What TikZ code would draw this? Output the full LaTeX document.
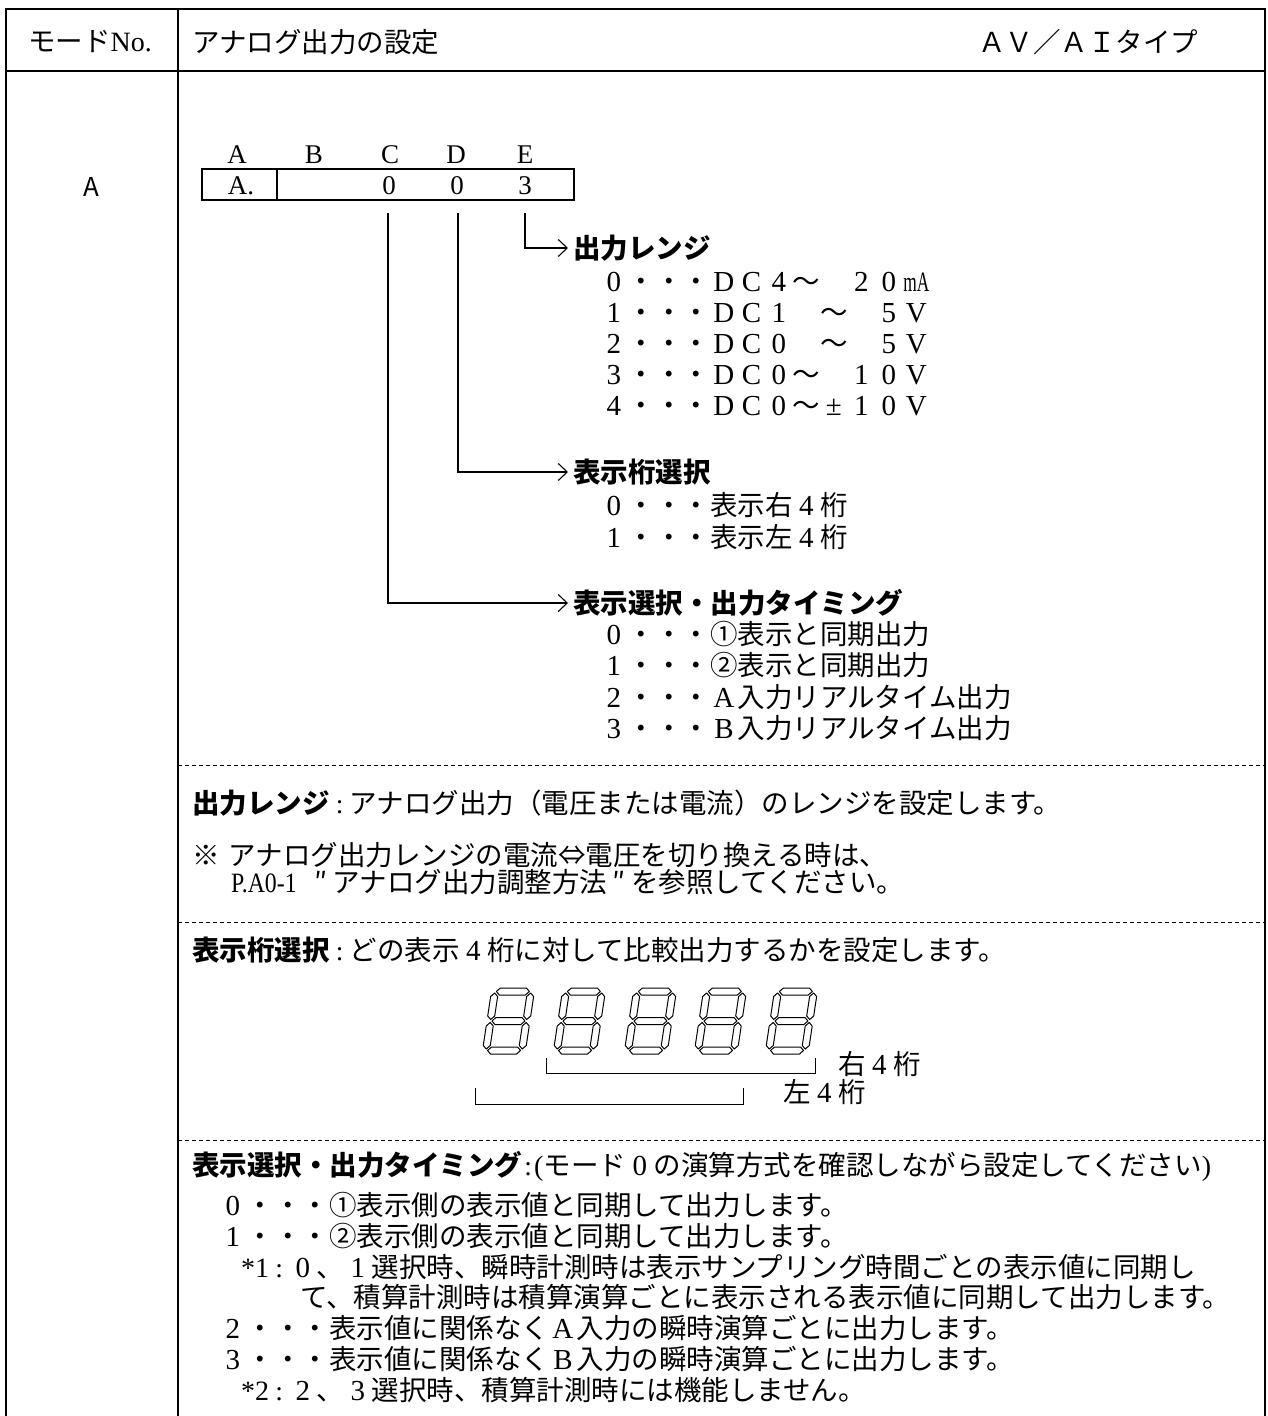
\documentclass[tikz,border=0pt]{standalone}
\usepackage{fontspec}
\usepackage{graphicx}
\usetikzlibrary{arrows.meta}
\newfontfamily\jp{Noto Sans CJK JP}
\newfontfamily\ser{Liberation Serif}
\newcommand\fsz{\fontsize{27.5}{33}\selectfont}
\newcommand\fw[1]{\makebox[27.5pt][c]{\ser\fontsize{29}{32}\selectfont #1}}
\newcommand\hw[1]{{\ser\fontsize{28}{32}\selectfont #1}}
\newcommand\cln[1][20pt]{\makebox[#1][c]{\ser :}}
\newcommand\hseg[3]{\draw[segst] (#1,-#3) -- ({#1+3.5},{-#3-3.5}) -- ({#2-3.5},{-#3-3.5}) -- (#2,-#3) -- ({#2-3.5},{-#3+3.5}) -- ({#1+3.5},{-#3+3.5}) -- cycle;}
\newcommand\vseg[3]{\draw[segst] (#1,-#2) -- ({#1+3.5},{-#2-3.5}) -- ({#1+3.5},{-#3+3.5}) -- (#1,-#3) -- ({#1-3.5},{-#3+3.5}) -- ({#1-3.5},{-#2-3.5}) -- cycle;}
\tikzset{segdig/.pic={
  \begin{scope}[xslant=0.15]
  \hseg{5}{38}{3.5}\hseg{5}{38}{33}\hseg{5}{38}{62.5}
  \vseg{3.5}{5}{31.5}\vseg{3.5}{34.5}{61}
  \vseg{39.5}{5}{31.5}\vseg{39.5}{34.5}{61}
  \end{scope}}}
\begin{document}
\begin{tikzpicture}[x=1pt,y=-1pt,
  frame/.style={line width=2pt},
  dashsep/.style={line width=1pt, dash pattern=on 4pt off 3pt},
  txt/.style={inner sep=0pt, anchor=west, font=\jp\fsz},
  hdr/.style={inner sep=0pt, anchor=west, font=\jp\bfseries\fsz},
  ser/.style={inner sep=0pt, font=\ser\fontsize{27}{30}\selectfont},
  conn/.style={line width=1.1pt, -{Straight Barb[length=9pt,width=17pt,line width=1.1pt]}, shorten >=5pt},
  brk/.style={line width=1pt},
  segst/.style={line width=1pt, line join=round},
  regbox/.style={draw, line width=1.6pt, inner sep=0pt, minimum width=372pt, minimum height=31pt, anchor=north west},
]
\useasboundingbox (0,0) rectangle (1268,1416);

% frame
\draw[line width=2.6pt] (5,9) -- (1266,9);
\draw[frame] (6,9) -- (6,1416);
\draw[frame] (1265,9) -- (1265,1416);
\draw[frame] (6,71) -- (1265,71);
\draw[frame] (178,9) -- (178,1416);

% header
\node[txt, anchor=center] (modeno) at (90,42) {モード\hw{No.}};
\node[txt] (title) at (192,42) {アナログ出力の設定};
\node[txt] (type) at (978,42) {ＡＶ／ＡＩタイプ};
\node[inner sep=0pt, font=\jp\fontsize{26}{28}\selectfont] (modeA) at (91,187) {A};

% register box
\node[ser] (lA) at (237,155) {A};
\node[ser] (lB) at (314,155) {B};
\node[ser] (lC) at (390,155) {C};
\node[ser] (lD) at (456,155) {D};
\node[ser] (lE) at (525,155) {E};
\node[regbox] (reg) at (201,168) {};
\draw[line width=1.6pt] (277,168) -- (277,199);
\node[ser] (vA) at (241,186) {A.};
\node[ser] (vC) at (389,186) {0};
\node[ser] (vD) at (457,186) {0};
\node[ser] (vE) at (525,186) {3};

\coordinate (sC) at (388,213);
\coordinate (sD) at (458,213);
\coordinate (sE) at (525,213);

% headings
\node[hdr] (h1) at (573,248) {出力レンジ};
\node[hdr] (h2) at (573,472) {表示桁選択};
\node[hdr] (h3) at (573,603) {表示選択・出力タイミング};
\draw[conn] (sE) |- (h1.west);
\draw[conn] (sD) |- (h2.west);
\draw[conn] (sC) |- (h3.west);

% section 1 items
\node[txt] (a0) at (600,282) {\fw{0}・・・\fw{D}\fw{C}\fw{4}～　\fw{2}\fw{0}\makebox[27.5pt][c]{\scalebox{0.62}[1]{\hw{mA}}}};
\node[txt] (a1) at (600,313) {\fw{1}・・・\fw{D}\fw{C}\fw{1}　～　\fw{5}\fw{V}};
\node[txt] (a2) at (600,344) {\fw{2}・・・\fw{D}\fw{C}\fw{0}　～　\fw{5}\fw{V}};
\node[txt] (a3) at (600,375) {\fw{3}・・・\fw{D}\fw{C}\fw{0}～　\fw{1}\fw{0}\fw{V}};
\node[txt] (a4) at (600,406) {\fw{4}・・・\fw{D}\fw{C}\fw{0}～\fw{±}\fw{1}\fw{0}\fw{V}};
% section 2 items
\node[txt] (b0) at (600,505) {\fw{0}・・・表示右\fw{4}桁};
\node[txt] (b1) at (600,537) {\fw{1}・・・表示左\fw{4}桁};
% section 3 items
\node[txt] (c0) at (600,634) {\fw{0}・・・①表示と同期出力};
\node[txt] (c1) at (600,665) {\fw{1}・・・②表示と同期出力};
\node[txt] (c2) at (600,697) {\fw{2}・・・\fw{A}入力リアルタイム出力};
\node[txt] (c3) at (600,728) {\fw{3}・・・\fw{B}入力リアルタイム出力};

% separators
\draw[dashsep] (178,765) -- (1265,765);
\draw[dashsep] (178,922) -- (1265,922);
\draw[dashsep] (178,1140) -- (1265,1140);

% description 1
\node[txt] (d1) at (192,803) {{\bfseries 出力レンジ}\cln アナログ出力（電圧または電流）のレンジを設定します。};
\node[txt] (d2) at (192,855) {※\hspace{9pt}アナログ出力レンジの電流⇔電圧を切り換える時は、};
\node[txt] (d3) at (231,882) {\scalebox{0.85}[1]{\hw{P.A0-1}}\hspace{12pt}\makebox[24pt][c]{″}アナログ出力調整方法\makebox[24pt][c]{″}を参照してください。};

% description 2
\node[txt] (d4) at (192,950) {{\bfseries 表示桁選択}\cln どの表示\fw{4}桁に対して比較出力するかを設定します。};
\pic at (482,1054) {segdig};
\pic at (553,1054) {segdig};
\pic at (624,1054) {segdig};
\pic at (694,1054) {segdig};
\pic at (765,1054) {segdig};
\draw[brk] (546,1058) -- (546,1073) -- (815,1073) -- (815,1058);
\draw[brk] (475,1088) -- (475,1104) -- (743,1104) -- (743,1088);
\node[txt] (r4) at (838,1064) {右\fw{4}桁};
\node[txt] (l4) at (783,1092) {左\fw{4}桁};

% description 3
\node[txt] (d5) at (192,1166) {{\bfseries 表示選択・出力タイミング}\cln[12pt]\hw{(}モード\fw{0}の演算方式を確認しながら設定してください\hw{)}};
\node[txt] (e0) at (219,1205) {\fw{0}・・・①表示側の表示値と同期して出力します。};
\node[txt] (e1) at (219,1236) {\fw{1}・・・②表示側の表示値と同期して出力します。};
\node[txt] (e2) at (241,1267) {\hw{*1}\cln[20pt]\fw{0}、\fw{1}選択時、瞬時計測時は表示サンプリング時間ごとの表示値に同期し};
\node[txt] (e3) at (300,1297) {て、積算計測時は積算演算ごとに表示される表示値に同期して出力します。};
\node[txt] (e4) at (219,1328) {\fw{2}・・・表示値に関係なく\fw{A}入力の瞬時演算ごとに出力します。};
\node[txt] (e5) at (219,1359) {\fw{3}・・・表示値に関係なく\fw{B}入力の瞬時演算ごとに出力します。};
\node[txt] (e6) at (241,1390) {\hw{*2}\cln[20pt]\fw{2}、\fw{3}選択時、積算計測時には機能しません。};
\end{tikzpicture}
\end{document}
